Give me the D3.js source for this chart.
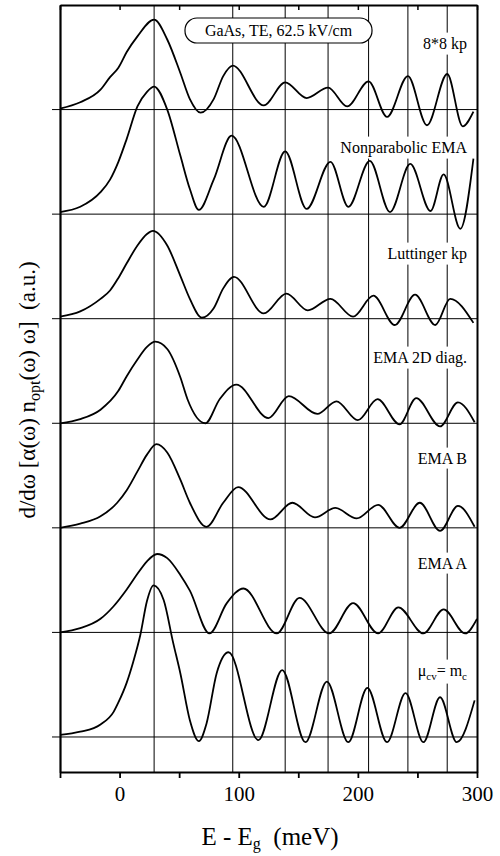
<!DOCTYPE html>
<html>
<head>
<meta charset="utf-8">
<script src="https://cdn.jsdelivr.net/npm/d3@7"></script>
<style>
  html, body { margin: 0; padding: 0; background: #fff; }
  svg { display: block; }
  text { font-family: "Liberation Serif", "DejaVu Serif", serif; fill: #000; }
</style>
</head>
<body>
<svg id="chart" width="500" height="856"></svg>
<script>
// ---------------- DATA ----------------
const seriesNames = ["8*8 kp", "Nonparabolic EMA", "Luttinger kp", "EMA 2D diag.", "EMA B", "EMA A", "mu"];
const xTicks = [-50, 0, 50, 100, 150, 200, 250, 300];
const xTickLabels = ["", "0", "", "100", "", "200", "", "300"];
const markerLines = [29, 95, 139, 175, 209, 242, 275];
const title = "GaAs, TE, 62.5 kV/cm";

const E_kp88 = [-50,-33,-16,-8,-1,6,15,29,40,51,59,68,79,87,95,121,139,157,175,191,209,224.5,242,258,275,288,297];
const V_kp88 = [0.01,0.07,0.19,0.31,0.40,0.55,0.70,0.86,0.67,0.35,0.10,-0.03,0.10,0.32,0.42,0.04,0.26,0.11,0.21,0.03,0.27,-0.07,0.32,-0.15,0.34,-0.16,-0.02];

const E_npema = [-50,-33,-16,-8,-1,6,15,23,29,40,51,59,66.5,79,94,121,139,157,177,192,210,227,244,261,272,286,297];
const V_npema = [0.02,0.07,0.21,0.33,0.50,0.72,1.03,1.17,1.22,1.00,0.56,0.24,0.04,0.33,0.75,0.07,0.60,0.05,0.50,0.07,0.51,0.02,0.48,0.03,0.38,-0.14,0.53];

const E_lutt = [-50,-33,-16,-8,-1,6,15,23,28,40,51,59,69,79,87,96,121,140,158,177,196,213,231,248,265,277.5,297];
const V_lutt = [0.02,0.07,0.19,0.27,0.39,0.53,0.70,0.81,0.84,0.70,0.41,0.19,0.01,0.10,0.29,0.40,0.05,0.24,0.08,0.19,0.02,0.22,-0.06,0.23,-0.06,0.19,-0.04];

const E_ema2d = [-50,-33,-16,-1,6,15,23,30,40,51,57,72,84,98,125,142,166,182,200,216.5,235,249,269,284,298];
const V_ema2d = [0.0,0.04,0.13,0.31,0.45,0.61,0.73,0.78,0.71,0.44,0.23,0.0,0.23,0.37,0.05,0.26,0.09,0.21,0.03,0.23,-0.01,0.24,-0.03,0.20,0.01];

const E_emaB = [-50,-33,-16,-2,6,15,23,31,40,51,59,73,87,99.5,126.6,145,164,181,199,217,235,252,269,284,298];
const V_emaB = [0.0,0.04,0.11,0.24,0.36,0.54,0.70,0.80,0.72,0.46,0.24,0.01,0.24,0.39,0.08,0.24,0.10,0.19,0.09,0.22,0.0,0.24,-0.03,0.21,0.01];

const E_emaA = [-50,-33,-16,-5,6,15,23,31.5,40,51,59,75.5,90,104,132,151,176,196,217,234,255,272,290,300];
const V_emaA = [0.0,0.04,0.13,0.25,0.41,0.56,0.68,0.75,0.71,0.55,0.40,-0.01,0.28,0.42,-0.01,0.33,-0.01,0.28,-0.01,0.24,-0.01,0.22,-0.01,0.13];

const E_mu = [-50,-33,-16,-5,-1,6,11.5,17.5,23,28.5,37,45,51,59,66.5,73,81.5,91.5,116.5,136.5,156,174,192,208,224.5,240,255,269,283,298];
const V_mu = [0.02,0.05,0.12,0.24,0.33,0.52,0.72,0.98,1.30,1.45,1.31,0.90,0.61,0.16,-0.04,0.13,0.61,0.81,-0.03,0.64,-0.05,0.53,-0.05,0.47,-0.05,0.42,-0.05,0.38,-0.05,0.35];

const seriesE = [E_kp88, E_npema, E_lutt, E_ema2d, E_emaB, E_emaA, E_mu];
const seriesV = [V_kp88, V_npema, V_lutt, V_ema2d, V_emaB, V_emaA, V_mu];
const seriesOffset = [6, 5, 4, 3, 2, 1, 0];

// ---------------- LAYOUT ----------------
const FONT = "'Liberation Serif', 'DejaVu Serif', serif";
const L = 60, R = 477, T = 5, B = 772;
const svg = d3.select("#chart");
const x = d3.scaleLinear().domain([-50, 300]).range([L, R]);
const y = d3.scaleLinear().domain([-0.335, 7.0]).range([B, T]);

// marker vertical lines
svg.append("g").selectAll("line").data(markerLines).join("line")
  .attr("x1", d => x(d)).attr("x2", d => x(d))
  .attr("y1", T).attr("y2", B)
  .attr("stroke", "#000").attr("stroke-width", 1);

// baselines
svg.append("g").selectAll("line").data(seriesOffset).join("line")
  .attr("x1", L - 8).attr("x2", R)
  .attr("y1", d => y(d)).attr("y2", d => y(d))
  .attr("stroke", "#000").attr("stroke-width", 1);

// curves
const lineGen = d3.line().x(d => x(d[0])).y(d => y(d[1])).curve(d3.curveMonotoneX);
seriesE.forEach((E, i) => {
  const pts = E.map((e, j) => [e, seriesV[i][j] + seriesOffset[i]]);
  svg.append("path").datum(pts).attr("d", lineGen)
    .attr("fill", "none").attr("stroke", "#000").attr("stroke-width", 1.8)
    .attr("stroke-linejoin", "round");
});

// series labels with white background
const labelY = [43, 147, 253, 357, 458, 563, 670];
const labelX = 467;
seriesNames.forEach((name, i) => {
  const g = svg.append("g");
  const t = g.append("text").attr("x", labelX).attr("y", labelY[i]).attr("dy", "0.35em")
    .attr("text-anchor", "end").attr("font-size", 16).attr("font-family", FONT);
  if (name === "mu") {
    t.append("tspan").text("μ");
    t.append("tspan").text("cv").attr("font-size", 11).attr("dy", 4);
    t.append("tspan").text("= m").attr("dy", -4);
    t.append("tspan").text("c").attr("font-size", 11).attr("dy", 4);
  } else {
    t.text(name);
  }
  const bb = t.node().getBBox();
  g.insert("rect", "text").attr("x", bb.x - 3).attr("y", bb.y - 2)
    .attr("width", bb.width + 6).attr("height", bb.height + 4).attr("fill", "#fff");
});

// title box
const tg = svg.append("g");
tg.append("rect").attr("x", 185).attr("y", 18).attr("width", 187).attr("height", 25)
  .attr("rx", 12).attr("ry", 12).attr("fill", "#fff").attr("stroke", "#000").attr("stroke-width", 1.2);
tg.append("text").attr("x", 278.5).attr("y", 30.5).attr("dy", "0.35em").attr("font-family", FONT)
  .attr("text-anchor", "middle").attr("font-size", 16).text(title);

// axes
const axB = svg.append("g").attr("transform", `translate(0,${B})`)
  .call(d3.axisBottom(x).tickValues(xTicks).tickSize(6).tickSizeOuter(0)
    .tickFormat((d, i) => xTickLabels[i]));
axB.select(".domain").attr("stroke-width", 2);
axB.selectAll(".tick line").attr("stroke-width", 1.8);
axB.selectAll(".tick text").attr("font-size", 21).attr("font-family", FONT).attr("dy", "0.95em");

const axT = svg.append("g").attr("transform", `translate(0,${T})`)
  .call(d3.axisTop(x).tickValues(xTicks).tickSize(-5).tickSizeOuter(0).tickFormat(""));
axT.select(".domain").attr("stroke-width", 1.8);
axT.selectAll(".tick line").attr("stroke-width", 1.5);

const axL = svg.append("g").attr("transform", `translate(${L},0)`)
  .call(d3.axisLeft(y).tickValues(seriesOffset).tickSize(0).tickSizeOuter(0).tickFormat(""));
axL.select(".domain").attr("stroke-width", 2.2);

const axR = svg.append("g").attr("transform", `translate(${R},0)`)
  .call(d3.axisRight(y).tickValues([]).tickSizeOuter(0));
axR.select(".domain").attr("stroke-width", 2);

// axis titles
const xt = svg.append("text").attr("x", 270).attr("y", 845).attr("text-anchor", "middle")
  .attr("font-size", 25).attr("font-family", FONT);
xt.append("tspan").text("E - E");
xt.append("tspan").text("g").attr("font-size", 16).attr("dy", 4);
xt.append("tspan").text("\u00a0 (meV)").attr("dy", -4);

const yt = svg.append("text").attr("transform", "translate(35,390) rotate(-90)")
  .attr("text-anchor", "middle").attr("font-size", 23).attr("font-family", FONT);
yt.append("tspan").text("d/dω [α(ω) n");
yt.append("tspan").text("opt").attr("font-size", 16).attr("dy", 5);
yt.append("tspan").text("(ω) ω]\u00a0 (a.u.)").attr("dy", -5);
</script>
</body>
</html>
